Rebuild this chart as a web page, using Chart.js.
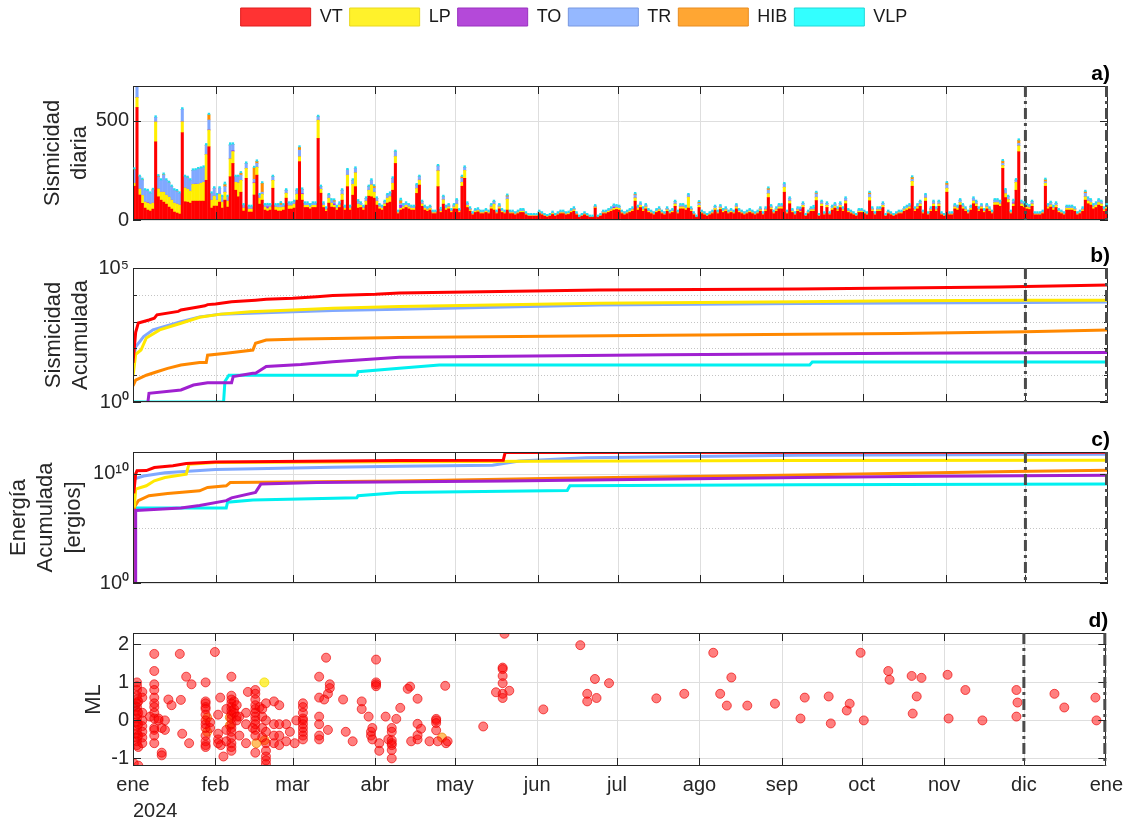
<!DOCTYPE html>
<html>
<head>
<meta charset="utf-8">
<title>Sismicidad 2024</title>
<script src="https://cdn.jsdelivr.net/npm/chart.js@4.4.1/dist/chart.umd.min.js"></script>
<style>
  body { margin: 0; background: #fff; }
  #page { position: relative; width: 1130px; height: 824px; overflow: hidden; }
  canvas { position: absolute; left: 0; }
</style>
</head>
<body>
<div id="page">
  <canvas id="panelA" width="1130" height="240" style="top:0px"></canvas>
  <canvas id="panelB" width="1130" height="180" style="top:240px"></canvas>
  <canvas id="panelC" width="1130" height="190" style="top:420px"></canvas>
  <canvas id="panelD" width="1130" height="214" style="top:610px"></canvas>
</div>
<script>
const FONT = "'Liberation Sans', Arial, Helvetica, sans-serif";
const INK = '#262626';

const seriesNames = ['VT', 'LP', 'TO', 'TR', 'HIB', 'VLP'];
const barColors = ['#ff0000', '#ffee00', '#a020f0', '#80a8ff', '#ff8c00', '#00ffff'];
const lineColors = ['#ff0000', '#ffe800', '#a020d0', '#80a8ff', '#ff8800', '#00f0f0'];
const legendFill = ['#ff3333', '#fff22b', '#b449d9', '#95b8ff', '#ffa633', '#33ffff'];
const legendEdge = ['#e01c1c', '#e8d820', '#9a30c0', '#7898e0', '#e88c20', '#20d8d8'];

// days counted from 1 Jan 2024
const monthDays = [0, 31, 60, 91, 121, 152, 182, 213, 244, 274, 305, 335, 366];
const monthLabels = ['ene', 'feb', 'mar', 'abr', 'may', 'jun', 'jul', 'ago', 'sep', 'oct', 'nov', 'dic', 'ene'];
const markDays = [335, 366];

// daily counts
const dailyVT = [
  170,567,126,84,60,50,45,55,394,117,100,90,80,65,55,40,35,30,440,92,90,85,95,95,95,95,95,200,369,60,70,
  70,90,60,100,65,218,285,150,117,140,45,210,40,40,126,226,80,100,50,45,50,160,50,45,45,50,110,55,55,
  60,100,294,100,63,63,56,63,63,411,135,63,44,85,65,63,50,63,100,50,168,50,125,168,60,63,50,75,120,117,110,
  75,56,50,69,85,90,150,285,32,50,56,63,56,50,50,134,176,69,50,44,50,32,32,168,38,80,50,56,38,56,
  55,38,170,210,63,44,26,38,41,32,32,38,32,56,50,32,56,38,32,50,32,32,26,32,38,38,26,19,19,19,19,
  32,26,19,15,19,28,19,26,32,32,26,28,38,44,26,13,19,26,19,13,13,60,13,19,32,32,38,44,50,53,
  50,32,26,32,38,44,95,50,63,44,56,38,32,26,38,44,32,26,44,32,38,69,32,56,56,50,60,44,26,13,63,
  32,26,19,26,32,50,32,53,38,44,32,38,32,56,38,32,26,32,38,32,26,32,44,26,44,113,53,32,44,56,56,
  140,32,82,38,26,44,38,63,19,32,44,44,98,19,69,26,63,26,50,60,44,63,44,82,38,32,26,19,38,38,
  32,26,97,44,26,44,44,63,19,32,26,19,26,32,32,44,50,56,170,44,56,69,32,95,26,44,69,44,69,26,19,
  140,26,26,56,50,75,56,44,32,50,82,69,44,56,38,56,44,32,75,75,69,260,113,88,32,69,150,344,69,63,
  56,53,69,26,26,26,32,170,56,65,50,63,38,32,26,50,50,50,44,26,32,44,100,82,75,56,63,75,69,44,56
];
const dailyLP = [
  15,50,30,40,30,35,35,30,100,40,40,50,45,50,45,45,45,45,55,70,65,60,85,85,85,90,95,130,84,40,50,
  30,40,30,40,30,90,60,40,70,60,15,50,15,15,60,40,30,30,15,12,15,40,15,18,18,15,25,17,17,
  20,30,25,30,11,11,10,11,11,92,20,11,8,25,20,11,9,11,30,9,58,9,55,70,20,11,9,20,30,60,30,
  20,10,9,12,25,28,35,35,5,9,10,11,10,9,9,25,25,12,9,8,9,5,5,80,6,22,9,10,6,10,
  25,6,20,40,11,8,4,6,7,5,5,6,5,10,30,5,10,6,5,55,5,5,4,5,6,6,4,3,3,3,3,
  5,4,3,3,3,5,3,4,5,5,4,5,6,8,4,2,3,4,3,2,2,5,2,3,5,5,6,8,9,9,
  9,5,4,5,6,8,16,9,11,8,10,6,5,4,6,8,5,4,8,5,6,12,5,10,10,9,55,8,4,2,11,
  5,4,3,4,5,9,5,9,6,8,5,6,5,10,6,5,4,5,6,5,4,5,8,4,8,20,9,5,8,10,10,
  25,5,14,6,4,8,6,11,3,5,8,8,17,3,12,4,11,4,9,10,8,11,8,14,6,5,4,3,6,6,
  5,4,17,8,4,8,8,11,3,5,4,3,4,5,5,8,9,10,25,8,10,12,5,16,4,8,12,8,12,4,3,
  20,4,4,10,9,13,10,8,5,9,14,12,8,10,6,10,8,5,13,13,12,15,20,15,5,12,40,30,12,11,
  10,9,12,4,4,4,5,15,10,11,9,11,6,5,4,9,9,9,8,4,5,8,17,14,13,10,11,13,12,8,10
];
const dailyTR = [
  65,63,62,76,60,58,54,65,23,61,60,86,75,70,68,65,63,59,62,56,55,55,70,70,75,75,75,47,50,34,40,
  26,30,27,28,22,69,32,28,31,26,15,25,12,12,16,19,16,10,10,10,10,18,10,12,12,10,15,12,12,
  12,20,33,20,10,10,9,10,10,17,13,10,7,16,15,10,8,10,20,8,26,8,20,22,12,10,8,14,18,23,20,
  14,9,8,11,16,16,25,24,5,8,9,10,9,8,8,17,17,11,8,7,8,5,5,24,6,15,8,9,6,9,
  20,6,20,15,10,7,4,6,6,5,5,6,5,9,12,5,9,6,5,12,5,5,4,5,6,6,4,3,3,3,3,
  5,4,3,2,3,4,3,4,5,5,4,4,6,7,4,2,3,4,3,2,2,5,2,3,5,5,6,7,8,8,
  8,5,4,5,6,7,15,8,10,7,9,6,5,4,6,7,5,4,7,5,6,11,5,9,9,8,11,7,4,2,10,
  5,4,3,4,5,8,5,8,6,7,5,6,5,9,6,5,4,5,6,5,4,5,7,4,7,18,8,5,7,9,9,
  16,5,13,6,4,7,6,10,3,5,7,7,16,3,11,4,10,4,8,10,7,10,7,13,6,5,4,3,6,6,
  5,4,15,7,4,7,7,10,3,5,4,3,4,5,5,7,8,9,10,7,9,11,5,15,4,7,11,7,11,4,3,
  16,4,4,9,8,12,9,7,5,8,13,11,7,9,6,9,7,5,12,12,11,10,18,14,5,11,11,12,11,10,
  9,8,11,4,4,4,5,8,9,11,8,10,6,5,4,8,8,8,7,4,5,7,17,13,12,9,10,12,11,7,9
];
// sparse daily counts: [day, count]
const dailyTO = [[5,2],[18,1],[23,1],[28,1],[37,4],[45,3],[50,9],[63,4],[75,7],[100,15],[180,6],[250,8],[330,5]];
const dailyHIB = [[0,4],[1,3],[3,3],[5,2],[7,2],[9,3],[11,3],[13,3],[16,3],[20,3],[24,2],[28,26],[34,10],[40,10],
  [45,58],[46,10],[48,45],[55,10],[62,14],[75,8],[90,10],[100,15],[123,8],[140,6],[188,5],[212,6],[238,8],
  [256,6],[276,8],[292,10],[305,10],[326,12],[332,15],[342,10],[357,8]];
const dailyVLP = [[0,1],[34,5],[36,4],[84,3],[100,5],[115,6],[255,7]];

// cumulative number of events: [day, events]
const cumVT = [[0,29],[1,400],[2,890],[6,1150],[8,1350],[9,1780],[17,2400],[18,2700],[25,3600],[27,3900],[28,4300],
  [31,4570],[37,5500],[46,6300],[50,6800],[60,7400],[69,8500],[75,9500],[91,10500],[100,11700],[175,15000],
  [250,16600],[325,19500],[335,20500],[366,23400]];
const cumLP = [[0,9],[1,60],[3,87],[5,245],[10,490],[18,870],[25,1450],[33,1900],[44,2350],[60,2700],[75,3160],
  [100,3630],[175,4800],[250,5500],[288,6000],[335,6200],[366,6300]];
const cumTO = [[5.6,1],[6,2.1],[18,2.8],[22.7,4.3],[28,5.2],[37,5.2],[37.6,8.9],[45,11.7],[46,11.7],[50,21],[63,25],
  [75,32],[100,47],[200,58],[288,66],[366,71]];
const cumTR = [[0,29],[1,115],[4,275],[7.5,490],[18,1000],[25,1500],[33,1900],[60,2350],[75,2570],[100,2880],
  [175,4200],[250,4700],[288,4900],[335,5200],[366,5400]];
const cumHIB = [[0,4],[1,6.6],[5,10],[9,13.5],[13,18],[18,24],[25,30],[27.5,30],[28,56],[35,66],[45,87],[46,155],
  [50,204],[63,224],[100,257],[200,310],[288,363],[335,417],[366,490]];
const cumVLP = [[0,1],[34,1],[34.5,5.8],[36,10],[84,10],[84.5,13.5],[100,18],[115,24],[254,24],[255,31],[366,31]];

// cumulative energy in ergios: [day, energy]
const energyVT = [[0.3,1.6e8],[1,1e10],[1.5,1.9e10],[5,2e10],[8,3.8e10],[15,5.4e10],[20,8.7e10],[31,1.2e11],
  [100,1.7e11],[139,1.8e11],[139.7,9e11],[366,9.3e11]];
const energyLP = [[0.5,8e6],[1,4e8],[5,8e8],[8,2.3e9],[12,4.6e9],[20,9.3e9],[21,7.6e10],[31,1.07e11],[100,1.3e11],
  [150,1.45e11],[250,1.7e11],[366,1.75e11]];
const energyTO = [[0.8,1],[1,4.4e6],[18,7.6e6],[25,1.26e7],[35,3.5e7],[37,6.3e7],[46,2e8],[48,1.15e9],[69,1.6e9],
  [140,2.2e9],[250,4.5e9],[300,6e9],[366,7.6e9]];
const energyTR = [[0,3.2e9],[4,6.3e9],[12,1.26e10],[31,2.5e10],[75,4e10],[100,5e10],[135,6e10],[145,1.5e11],
  [170,3e11],[250,5e11],[366,6.3e11]];
const energyHIB = [[0.3,1],[0.6,1e7],[2,3.5e7],[6,1e8],[13,1.6e8],[25,2.8e8],[28,5.7e8],[35,8e8],[36.5,1.6e9],
  [100,2.2e9],[160,4e9],[250,8e9],[330,1.6e10],[366,2.1e10]];
const energyVLP = [[0,7.6e6],[35,7.6e6],[35.5,2.5e7],[45,4e7],[84,6.3e7],[84.5,1e8],[100,2e8],[163,3e8],[164,8e8],
  [250,1e9],[366,1.15e9]];

// local magnitude: [day, ML]
const mlVT = [
  [0.3,-1.13],[2,-1.19],
  [1.5,1.0],[1.5,0.9],[1.5,0.8],[1.5,0.65],[1.5,0.55],[1.5,0.45],[1.5,0.35],[1.5,0.25],[1.5,0.15],[1.5,0.05],
  [1.5,-0.05],[1.5,-0.15],[1.5,-0.25],[1.5,-0.35],[1.5,-0.45],[1.5,-0.55],[1.5,-0.65],[2,0.5],[2,0.2],[2,-0.1],[2,-0.4],[2,-0.7],
  [3.5,0.75],[3.5,0.6],[3.5,0.2],[3.5,0],[3.5,-0.15],[3.5,-0.3],[3.5,-0.45],[3.5,-0.6],[6.4,0.1],
  [8,1.75],[8,1.3],[8,0.95],[8,0.8],[8,0.6],[8,0.45],[8,0.35],[8,0.2],[8,0.05],[8,-0.2],[8,-0.25],[8,-0.4],[8,-0.6],
  [9.6,0],[9.6,0.05],[10.8,-0.85],[10.8,-0.92],[10.8,-0.2],[12,0],[12,-0.25],[13.3,0.55],[14.5,0.4],
  [17.6,1.75],[18,0.54],[18.5,-0.35],[20,1.15],[21.1,-0.6],[22,0.95],
  [27.3,1.0],[27.3,0.5],[27.3,0.45],[27.3,0.35],[27.3,0.3],[27.3,0.15],[27.3,0],[27.3,-0.1],[27.3,-0.2],[27.3,-0.4],
  [27.3,-0.55],[27.3,-0.65],[27.3,-0.7],
  [29,-0.2],[29,-0.05],[30.8,1.8],[32,0.15],[32,-0.35],[32,-0.5],[32,-0.6],[32.8,0.6],[33,-0.65],[34,-0.95],
  [35.1,0.3],[35.1,-0.25],[35.1,-0.55],
  [37,1.15],[37,0.65],[37,0.55],[37,0.45],[37,0.35],[37,0.25],[37,0.15],[37,0.05],[37,-0.1],[37,-0.2],[37,-0.3],
  [37,-0.45],[37,-0.6],[37,-0.7],[37,-0.8],
  [38,0.5],[38,0.3],[38,0.2],[39,0.4],[39,0.1],[39,0],[40,0.1],[40,-0.4],[42.5,0.2],[42.5,-0.1],[42.5,-0.6],[43.2,0.75],[45,-0.2],
  [46,0.8],[46,0.7],[46,0.55],[46,0.4],[46,0.3],[46,0.2],[46,0.1],[46,0],[46,-0.1],[46,-0.25],[46,-0.4],[46,-0.85],
  [47.6,0.35],[48.6,0.3],[48.6,0.1],[48.6,-0.2],[48.6,-0.45],
  [50,0.45],[50,0],[50,-0.3],[50,-0.6],[50,-0.8],[50,-0.95],[50,-1.05],[50,-1.15],
  [53,0.5],[53,-0.1],[53,-0.4],[53,-0.6],[55,0.4],[55,-0.1],[55,-0.4],[55,-0.65],[57.6,-0.1],[57.6,-0.55],[59,-0.3],
  [60.8,-0.6],[61.4,0],
  [63.9,0.45],[63.9,0.35],[63.9,0.2],[63.9,0.05],[63.9,0],[63.9,-0.1],[63.9,-0.2],[63.9,-0.3],[63.9,-0.4],[63.9,-0.5],
  [70,1.15],[70,0.6],[70,0.1],[70,-0.1],[70,-0.4],[70,-0.5],[71.9,0.55],[72.6,1.65],[73.3,0.7],[73.3,-0.25],[74,0.95],[74,0.85],
  [79,0.55],[80,-0.3],[82.6,-0.55],[86,0.5],[86,0.3],[88.6,0.1],
  [89.5,-0.3],[89.5,-0.4],[90,-0.5],[90,-0.2],[91.4,1.6],[91.4,1.0],[91.4,0.95],[91.4,0.9],[92.6,-0.8],[92.6,-0.6],
  [95,0.1],[96,-0.5],[97.3,-0.2],[97.3,-0.3],[97.3,-0.52],[97.3,-0.6],[97.3,-0.65],[97.3,-0.78],[97.3,-1.0],[99,0.04],[100.5,0.33],
  [103.3,0.83],[104.2,0.89],[104.6,-0.55],[107,0.57],[107,-0.09],[107,-0.39],[107,-0.5],[108.3,-0.22],[111.5,-0.55],
  [114,0.04],[114,0],[114,-0.07],[114,-0.26],[114.6,-0.55],[117.4,0.91],[117.7,-0.6],[118.3,-0.55],
  [131.7,-0.16],[136.5,0.74],[139,1.39],[139,1.35],[139,1.17],[139,0.98],[139,0.7],[139,0.59],[139.7,2.28],[141.5,0.78],
  [154.3,0.29],[168.2,1.98],[170.8,0.7],[170.8,0.5],[173.7,1.09],[174.3,0.59],[179,0.98],[196.8,0.58],[207.3,0.7],
  [218.2,1.78],[220.8,0.7],[223.3,0.39],[225,1.13],[231,0.39],
  [241.4,0.44],[251,0.05],[252.6,0.6],[261.6,0.63],[262.4,-0.08],[268.4,0.26],[269.5,0.44],[273.6,1.78],[274.8,0],
  [284,1.3],[284.5,1.07],[292.8,1.17],[293.2,0.18],[296.5,1.12],[294.7,0.63],[306.3,1.2],[306.7,0.05],[313,0.8],[319.4,0],
  [332.2,0.8],[332.6,0.47],[332.2,0.1],[346.5,0.7],[350.2,0.34],[361.9,0.6],[362.3,0]
];
const mlHIB = [[27.9,0.07],[27.9,-0.3],[36.4,0.08],[36.4,-0.13],[46.4,-0.6],[49.5,-0.52],[116.2,-0.45]];
const mlLP = [[49.4,1.0]];
const mlVLP = [[0.7,0.39]];

function expand(pairs) {
  const out = new Array(366).fill(0);
  pairs.forEach(([d, n]) => { out[d] = n; });
  return out;
}
function toXY(pairs) {
  return pairs.map(([x, y]) => ({ x, y }));
}

// grid, box, inward ticks, marker lines and labels, MATLAB style
const frame = {
  id: 'frame',
  beforeDatasetsDraw(chart, args, o) {
    const { ctx, chartArea: a, scales: { x, y } } = chart;
    ctx.save();
    ctx.lineWidth = 1;
    ctx.strokeStyle = '#dedede';
    ctx.beginPath();
    monthDays.slice(1, -1).forEach(d => {
      const px = Math.round(x.getPixelForValue(d)) + 0.5;
      ctx.moveTo(px, a.top); ctx.lineTo(px, a.bottom);
    });
    o.yMajor.forEach(v => {
      const py = Math.round(y.getPixelForValue(v)) + 0.5;
      ctx.moveTo(a.left, py); ctx.lineTo(a.right, py);
    });
    ctx.stroke();
    ctx.strokeStyle = '#c4c4c4';
    ctx.setLineDash([1, 2]);
    ctx.beginPath();
    o.yMinor.forEach(v => {
      const py = Math.round(y.getPixelForValue(v)) + 0.5;
      ctx.moveTo(a.left, py); ctx.lineTo(a.right, py);
    });
    ctx.stroke();
    ctx.restore();
  },
  afterDatasetsDraw(chart, args, o) {
    const { ctx, chartArea: a, scales: { x, y } } = chart;
    ctx.save();
    ctx.strokeStyle = INK;
    ctx.lineWidth = 1;
    ctx.beginPath();
    monthDays.slice(1, -1).forEach(d => {
      const px = Math.round(x.getPixelForValue(d)) + 0.5;
      ctx.moveTo(px, a.top); ctx.lineTo(px, a.top + 8);
      ctx.moveTo(px, a.bottom); ctx.lineTo(px, a.bottom - 8);
    });
    o.yMajor.forEach(v => {
      const py = Math.round(y.getPixelForValue(v)) + 0.5;
      ctx.moveTo(a.left, py); ctx.lineTo(a.left + 8, py);
      ctx.moveTo(a.right, py); ctx.lineTo(a.right - 8, py);
    });
    o.yMinor.forEach(v => {
      const py = Math.round(y.getPixelForValue(v)) + 0.5;
      ctx.moveTo(a.left, py); ctx.lineTo(a.left + 4, py);
      ctx.moveTo(a.right, py); ctx.lineTo(a.right - 4, py);
    });
    ctx.stroke();
    ctx.strokeRect(Math.round(a.left) + 0.5, Math.round(a.top) + 0.5,
      Math.round(a.right - a.left) - 1, Math.round(a.bottom - a.top) - 1);

    // dashed markers at 1 dic and 1 ene
    ctx.strokeStyle = '#4a4a4a';
    ctx.lineWidth = 3;
    ctx.setLineDash([11, 4, 3, 4]);
    ctx.beginPath();
    markDays.forEach(d => {
      const px = Math.min(x.getPixelForValue(d), a.right - 1.5);
      ctx.moveTo(px, a.top); ctx.lineTo(px, a.bottom);
    });
    ctx.stroke();
    ctx.setLineDash([]);

    // panel tag
    ctx.fillStyle = '#000';
    ctx.font = 'bold 21px ' + FONT;
    ctx.textAlign = 'right';
    ctx.textBaseline = 'middle';
    ctx.fillText(o.tag, a.right + 2, a.top - 12);

    // axis title
    ctx.fillStyle = INK;
    ctx.font = '22px ' + FONT;
    ctx.textAlign = 'center';
    const cy = (a.top + a.bottom) / 2;
    o.titleLines.forEach((t, i) => {
      ctx.save();
      ctx.translate(o.titleX[i], cy);
      ctx.rotate(-Math.PI / 2);
      ctx.fillText(t, 0, 0);
      ctx.restore();
    });
    if (o.year) {
      ctx.font = '20px ' + FONT;
      ctx.textAlign = 'left';
      ctx.fillText('2024', a.left, a.bottom + 45);
    }
    ctx.restore();
  }
};

// cyan cap on top of every daily bar
const caps = {
  id: 'caps',
  afterDatasetsDraw(chart) {
    const { ctx, chartArea: a } = chart;
    const meta = chart.getDatasetMeta(chart.data.datasets.length - 1);
    ctx.save();
    ctx.beginPath();
    ctx.rect(a.left, a.top, a.right - a.left, a.bottom - a.top);
    ctx.clip();
    ctx.fillStyle = '#22dcf0';
    meta.data.forEach(bar => {
      ctx.fillRect(bar.x - bar.width / 2, bar.y - 2, bar.width, 2);
    });
    ctx.restore();
  }
};

// push the plot below the legend
const legendGap = {
  id: 'legendGap',
  beforeInit(chart) {
    if (!chart.legend) return;
    const fit = chart.legend.fit;
    chart.legend.fit = function () { fit.call(this); this.height += 50; };
  }
};

const supLabels = { 1: '10\u2070', 100000: '10\u2075', 10000000000: '10\u00b9\u2070' };

function options(cfg) {
  const padLeft = cfg.padLeft || 0;
  return {
    responsive: false,
    animation: false,
    events: [],
    layout: { padding: { top: cfg.padTop, bottom: cfg.padBottom, left: padLeft, right: 0 } },
    plugins: {
      legend: { display: false },
      tooltip: { enabled: false },
      frame: cfg.frame
    },
    scales: {
      x: {
        type: 'linear', min: 0, max: 366, offset: false,
        display: cfg.showX, stacked: !!cfg.stacked,
        grid: { display: false, drawTicks: false, offset: false }, border: { display: false },
        ticks: {
          autoSkip: false, maxRotation: 0, padding: 7, color: INK,
          font: { family: FONT, size: 20 },
          callback: (v, i) => monthLabels[i]
        },
        afterBuildTicks(s) { s.ticks = monthDays.map(v => ({ value: v })); },
        afterFit(s) { s.height = cfg.showX ? 58 : 0; }
      },
      y: {
        type: cfg.yType, min: cfg.yMin, max: cfg.yMax, stacked: !!cfg.stacked,
        grid: { display: false, drawTicks: false }, border: { display: false },
        ticks: {
          padding: 4, color: INK, font: { family: FONT, size: 20 },
          callback: cfg.yType === 'logarithmic' ? (v => supLabels[v] || '') : (v => String(v))
        },
        afterBuildTicks(s) { s.ticks = cfg.frame.yMajor.filter(v => cfg.yLabeled.includes(v)).map(v => ({ value: v })); },
        afterFit(s) { s.width = 133 - padLeft; }
      },
      y2: {
        position: 'right', display: true,
        grid: { display: false }, border: { display: false }, ticks: { display: false },
        afterFit(s) { s.width = 22; }
      }
    }
  };
}

// a) daily seismicity
const daily = [dailyVT, dailyLP, expand(dailyTO), dailyTR, expand(dailyHIB), expand(dailyVLP)];
const optA = options({
  padTop: 1, padBottom: 20, padLeft: 18, showX: false, stacked: true,
  yType: 'linear', yMin: 0, yMax: 675, yLabeled: [0, 500],
  frame: { tag: 'a)', yMajor: [0, 500], yMinor: [], titleLines: ['Sismicidad', 'diaria'], titleX: [53, 80], year: false }
});
optA.plugins.legend = {
  display: true, position: 'top',
  onClick: null,
  labels: {
    boxWidth: 70, boxHeight: 18, padding: 7, color: '#1a1a1a',
    font: { family: FONT, size: 18 },
    generateLabels: () => seriesNames.map((t, i) => ({
      text: t, fillStyle: legendFill[i], strokeStyle: legendEdge[i], lineWidth: 1,
      hidden: false, datasetIndex: i, fontColor: '#1a1a1a'
    }))
  }
};
new Chart(document.getElementById('panelA'), {
  type: 'bar',
  data: {
    datasets: seriesNames.map((name, k) => ({
      label: name,
      data: daily[k].map((v, i) => ({ x: i + 0.5, y: v })),
      backgroundColor: barColors[k],
      borderWidth: 0,
      barThickness: 2.4,
      stack: 'day'
    }))
  },
  options: optA,
  plugins: [legendGap, frame, caps]
});

// b) cumulative seismicity
const cumSeries = [cumVT, cumLP, cumTO, cumTR, cumHIB, cumVLP];
new Chart(document.getElementById('panelB'), {
  type: 'line',
  data: {
    datasets: seriesNames.map((name, k) => ({
      label: name, data: toXY(cumSeries[k]),
      borderColor: lineColors[k], borderWidth: 3, pointRadius: 0, tension: 0, fill: false
    }))
  },
  options: options({
    padTop: 28, padBottom: 18, showX: false,
    yType: 'logarithmic', yMin: 1, yMax: 1e5, yLabeled: [1, 1e5],
    frame: { tag: 'b)', yMajor: [1, 1e5], yMinor: [10, 100, 1000, 10000],
      titleLines: ['Sismicidad', 'Acumulada'], titleX: [54, 81], year: false }
  }),
  plugins: [frame]
});

// c) cumulative energy
const energySeries = [energyVT, energyLP, energyTO, energyTR, energyHIB, energyVLP];
new Chart(document.getElementById('panelC'), {
  type: 'line',
  data: {
    datasets: seriesNames.map((name, k) => ({
      label: name, data: toXY(energySeries[k]),
      borderColor: lineColors[k], borderWidth: 3, pointRadius: 0, tension: 0, fill: false
    }))
  },
  options: options({
    padTop: 32, padBottom: 27, showX: false,
    yType: 'logarithmic', yMin: 1, yMax: 1e12, yLabeled: [1, 1e10],
    frame: { tag: 'c)', yMajor: [1, 1e10], yMinor: [1e5],
      titleLines: ['Energía', 'Acumulada', '[ergios]'], titleX: [19, 46, 74], year: false }
  }),
  plugins: [frame]
});

// d) local magnitude
const mlSets = [
  { name: 'VT', pts: mlVT, fill: 'rgba(255,0,0,0.5)', edge: 'rgba(235,0,0,0.65)' },
  { name: 'HIB', pts: mlHIB, fill: 'rgba(255,150,0,0.6)', edge: 'rgba(240,130,0,0.7)' },
  { name: 'LP', pts: mlLP, fill: 'rgba(255,235,0,0.7)', edge: 'rgba(240,220,0,0.8)' },
  { name: 'VLP', pts: mlVLP, fill: 'rgba(40,170,170,0.7)', edge: 'rgba(30,150,150,0.8)' }
];
new Chart(document.getElementById('panelD'), {
  type: 'scatter',
  data: {
    datasets: mlSets.map(s => ({
      label: s.name, data: toXY(s.pts),
      backgroundColor: s.fill, borderColor: s.edge, borderWidth: 1, pointRadius: 4.5
    }))
  },
  options: options({
    padTop: 23, padBottom: 0, showX: true,
    yType: 'linear', yMin: -1.2, yMax: 2.3, yLabeled: [-1, 0, 1, 2],
    frame: { tag: 'd)', yMajor: [-1, 0, 1, 2], yMinor: [], titleLines: ['ML'], titleX: [94], year: true }
  }),
  plugins: [frame]
});
</script>
</body>
</html>
